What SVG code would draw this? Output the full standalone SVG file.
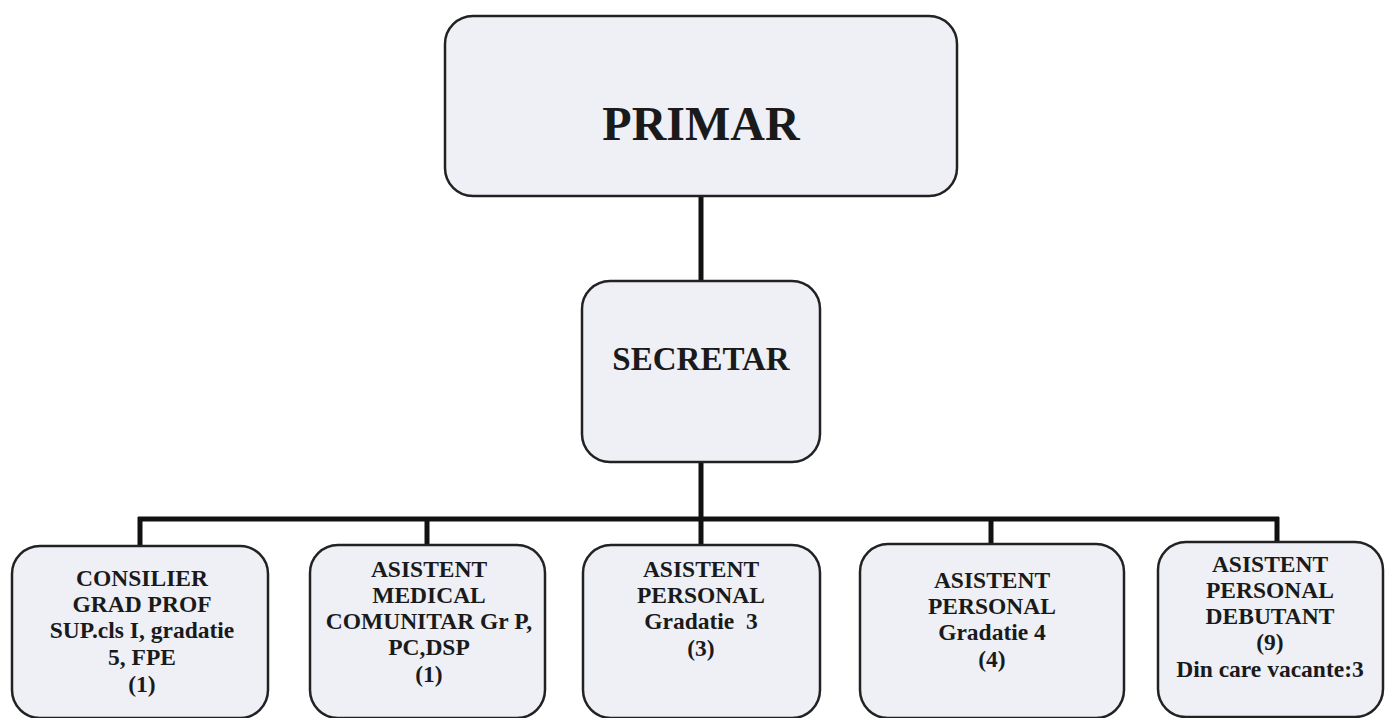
<svg xmlns="http://www.w3.org/2000/svg" width="1385" height="718" viewBox="0 0 1385 718">
<style>
.box{fill:#eef0f6;stroke:#222;stroke-width:2.5}
.conn{stroke:#111;stroke-width:5;fill:none}
text{font-family:"Liberation Serif","Times New Roman",serif;font-weight:bold;fill:#1a1a1a;text-anchor:middle}
.t{font-size:23.5px}
</style>
<rect width="1385" height="718" fill="#ffffff"/>
<g id="connectors">
<line class="conn" x1="701" y1="196" x2="701" y2="281"/>
<line class="conn" x1="701" y1="462" x2="701" y2="545"/>
<line class="conn" x1="138" y1="519" x2="1279" y2="519"/>
<line class="conn" x1="140" y1="517" x2="140" y2="546"/>
<line class="conn" x1="427" y1="517" x2="427" y2="545"/>
<line class="conn" x1="991" y1="517" x2="991" y2="545"/>
<line class="conn" x1="1277" y1="517" x2="1277" y2="545"/>
</g>
<g id="primar">
<rect class="box" x="445" y="16" width="512" height="180" rx="28"/>
<text x="701" y="140" font-size="48">PRIMAR</text>
</g>
<g id="secretar">
<rect class="box" x="582" y="281" width="238" height="181" rx="28"/>
<text x="701" y="370" font-size="33">SECRETAR</text>
</g>
<g id="consilier">
<rect class="box" x="12" y="546" width="256" height="172" rx="28"/>
<text class="t" x="142" y="586">CONSILIER</text>
<text class="t" x="142" y="612">GRAD PROF</text>
<text class="t" x="142" y="638">SUP.cls I, gradatie</text>
<text class="t" x="142" y="665">5, FPE</text>
<text class="t" x="142" y="692">(1)</text>
</g>
<g id="asistent-medical">
<rect class="box" x="310" y="545" width="235" height="173" rx="28"/>
<text class="t" x="429" y="577">ASISTENT</text>
<text class="t" x="429" y="603">MEDICAL</text>
<text class="t" x="429" y="629">COMUNITAR Gr P,</text>
<text class="t" x="429" y="655">PC,DSP</text>
<text class="t" x="429" y="682">(1)</text>
</g>
<g id="asistent-g3">
<rect class="box" x="583" y="545" width="237" height="173" rx="28"/>
<text class="t" x="701" y="577">ASISTENT</text>
<text class="t" x="701" y="603">PERSONAL</text>
<text class="t" x="701" y="629" xml:space="preserve">Gradatie  3</text>
<text class="t" x="701" y="656">(3)</text>
</g>
<g id="asistent-g4">
<rect class="box" x="860" y="544" width="264" height="174" rx="28"/>
<text class="t" x="992" y="588">ASISTENT</text>
<text class="t" x="992" y="614">PERSONAL</text>
<text class="t" x="992" y="640">Gradatie 4</text>
<text class="t" x="992" y="667">(4)</text>
</g>
<g id="asistent-debutant">
<rect class="box" x="1158" y="542" width="225" height="175" rx="28"/>
<text class="t" x="1270" y="572">ASISTENT</text>
<text class="t" x="1270" y="598">PERSONAL</text>
<text class="t" x="1270" y="624">DEBUTANT</text>
<text class="t" x="1270" y="650">(9)</text>
<text class="t" x="1270" y="677">Din care vacante:3</text>
</g>
</svg>
